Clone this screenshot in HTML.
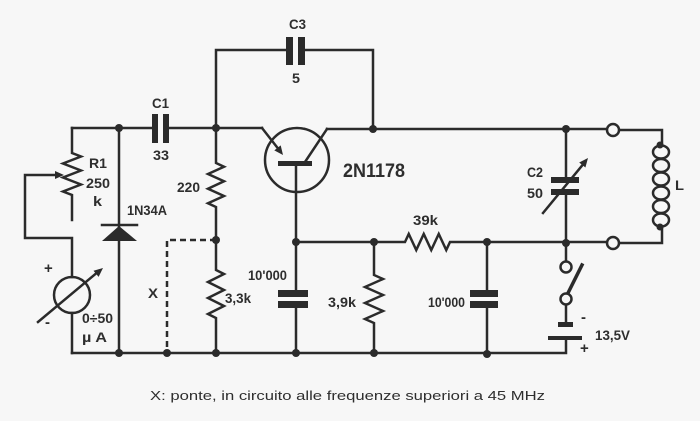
<!DOCTYPE html>
<html><head><meta charset="utf-8"><style>
html,body{margin:0;padding:0;background:#f7f7f7;}
svg{display:block;}
text{font-family:"Liberation Sans",sans-serif;font-weight:bold;fill:#2e2e2e;}
</style></head><body>
<svg width="700" height="421" viewBox="0 0 700 421" xmlns="http://www.w3.org/2000/svg">
<rect width="700" height="421" fill="#f7f7f7"/>
<g stroke="#2b2b2b" stroke-width="2.5" fill="none" stroke-linecap="square">
<!-- top wire -->
<path d="M72 128 H152 M169 128 H262 M327 129 H607"/>
<!-- C3 loop -->
<path d="M216 128 V50 H287 M305 50 H373 V129"/>
<!-- left branch with R1 -->
<path d="M72 128 V153 L81 156.5 L63 163.5 L81 170.5 L63 177.5 L81 184.5 L63 191.5 L72 195 V220"/>
<!-- wiper -->
<path d="M57 175 H25 V238 H72 V277"/>
<!-- meter -->
<circle cx="72" cy="295" r="18"/>
<path d="M72 313 V353"/>
<path d="M38 322 L99 271"/>
<!-- bottom wire -->
<path d="M72 353 H566 V339"/>
<!-- diode line -->
<path d="M119 128 V353"/>
<path d="M102 225 H137"/>
<!-- 220 -->
<path d="M216 128 V163 L224 166.7 L208 174 L224 181.3 L208 188.7 L224 196 L208 203.3 L216 207 V270 L224 274 L208 282 L224 290 L208 298 L224 306 L208 314 L216 318 V353"/>
<!-- transistor -->
<circle cx="297" cy="160" r="32"/>
<path d="M262 128 L280 151"/>
<path d="M305 162 L327 129"/>
<path d="M296 166 V242"/>
<!-- mid wire -->
<path d="M296 242 H405 L408.75 234 L416.25 250 L423.75 234 L431.25 250 L438.75 234 L446.25 250 L450 242 H607"/>
<!-- cap 10000 left -->
<path d="M296 242 V290 M296 308 V353"/>
<!-- 3,9k -->
<path d="M374 242 V275 L383 279 L365 287 L383 295 L365 303 L383 311 L365 319 L374 323 V353"/>
<!-- cap right -->
<path d="M487 242 V290 M487 308 V354"/>
<!-- C2 -->
<path d="M566 129 V178 M566 195 V243 V261"/>
<path d="M543 213 L585 162"/>
<!-- right loop -->
<path d="M619 130 H662 V145 M662 227 V243 H619"/>
<!-- switch -->
<path d="M566 304 V322"/>
<path d="M568 293 L582 265" stroke-width="3.5"/>
</g>
<!-- dashed X -->
<path d="M216 240 H167 V353" stroke="#2b2b2b" stroke-width="2.5" fill="none" stroke-dasharray="6 4"/>
<!-- coil -->
<g stroke="#2b2b2b" stroke-width="2.5" fill="none">
<ellipse cx="661" cy="152" rx="8" ry="6.5"/>
<ellipse cx="661" cy="165.5" rx="8" ry="6.5"/>
<ellipse cx="661" cy="179" rx="8" ry="6.5"/>
<ellipse cx="661" cy="193" rx="8" ry="6.5"/>
<ellipse cx="661" cy="206.5" rx="8" ry="6.5"/>
<ellipse cx="661" cy="220" rx="8" ry="6.5"/>
</g>
<g fill="#2b2b2b">
<!-- capacitor plates -->
<rect x="152" y="114" width="6" height="29"/>
<rect x="163" y="114" width="6" height="29"/>
<rect x="286" y="37" width="7" height="28"/>
<rect x="298" y="37" width="7" height="28"/>
<rect x="278" y="290" width="30" height="7"/>
<rect x="278" y="301" width="30" height="7"/>
<rect x="470" y="290" width="28" height="7"/>
<rect x="470" y="301" width="28" height="7"/>
<rect x="551" y="177" width="28" height="6"/>
<rect x="551" y="189" width="28" height="6"/>
<rect x="558" y="322" width="15" height="5"/>
<rect x="548" y="336" width="34" height="4"/>
<!-- transistor base bar -->
<rect x="278" y="161" width="34" height="5"/>
<!-- diode triangle -->
<polygon points="119,226 102,241 137,241"/>
<!-- arrowheads -->
<polygon points="64,175 55,171 55,179"/>
<polygon points="103,268 98.6,276.9 93.5,270.7"/>
<polygon points="588,158 585.4,167.5 579.2,162.5"/>
<polygon points="283,155 280.7,145.4 274.3,150.4"/>
<!-- junction dots -->
<circle cx="119" cy="128" r="4"/>
<circle cx="216" cy="128" r="4"/>
<circle cx="373" cy="129" r="4"/>
<circle cx="566" cy="129" r="4"/>
<circle cx="216" cy="240" r="4"/>
<circle cx="296" cy="242" r="4"/>
<circle cx="374" cy="242" r="4"/>
<circle cx="487" cy="242" r="4"/>
<circle cx="566" cy="243" r="4"/>
<circle cx="119" cy="353" r="4"/>
<circle cx="167" cy="353" r="4"/>
<circle cx="216" cy="353" r="4"/>
<circle cx="296" cy="353" r="4"/>
<circle cx="374" cy="353" r="4"/>
<circle cx="487" cy="354" r="4"/>
<circle cx="660" cy="145" r="3.5"/>
<circle cx="660" cy="227" r="3.5"/>
</g>
<!-- open terminals -->
<g stroke="#2b2b2b" stroke-width="2.5" fill="#f7f7f7">
<circle cx="613" cy="130" r="6"/>
<circle cx="613" cy="243" r="6"/>
<circle cx="566" cy="267" r="5.5"/>
<circle cx="566" cy="299" r="5.5"/>
</g>
<!-- labels -->
<g font-size="14">
<text x="152" y="108" textLength="17" lengthAdjust="spacingAndGlyphs">C1</text>
<text x="153" y="160" textLength="16" lengthAdjust="spacingAndGlyphs">33</text>
<text x="289" y="29" textLength="17" lengthAdjust="spacingAndGlyphs">C3</text>
<text x="292" y="83" textLength="8" lengthAdjust="spacingAndGlyphs">5</text>
<text x="89" y="168" textLength="18" lengthAdjust="spacingAndGlyphs">R1</text>
<text x="86" y="188" textLength="24" lengthAdjust="spacingAndGlyphs">250</text>
<text x="93" y="206" textLength="9" lengthAdjust="spacingAndGlyphs">k</text>
<text x="127" y="215" textLength="40" lengthAdjust="spacingAndGlyphs">1N34A</text>
<text x="177" y="192" textLength="23" lengthAdjust="spacingAndGlyphs">220</text>
<text x="148" y="298" textLength="10" lengthAdjust="spacingAndGlyphs">X</text>
<text x="44" y="273" font-size="15">+</text>
<text x="45" y="327" font-size="15">-</text>
<text x="82" y="323" textLength="31" lengthAdjust="spacingAndGlyphs">0÷50</text>
<text x="82" y="342" textLength="25" lengthAdjust="spacingAndGlyphs">µ A</text>
<text x="225" y="303" textLength="26" lengthAdjust="spacingAndGlyphs">3,3k</text>
<text x="248" y="280" textLength="39" lengthAdjust="spacingAndGlyphs">10'000</text>
<text x="343" y="177" font-size="19" textLength="62" lengthAdjust="spacingAndGlyphs">2N1178</text>
<text x="413" y="225" textLength="25" lengthAdjust="spacingAndGlyphs">39k</text>
<text x="328" y="307" textLength="28" lengthAdjust="spacingAndGlyphs">3,9k</text>
<text x="428" y="307" textLength="37" lengthAdjust="spacingAndGlyphs">10'000</text>
<text x="527" y="177" textLength="16" lengthAdjust="spacingAndGlyphs">C2</text>
<text x="527" y="198" textLength="16" lengthAdjust="spacingAndGlyphs">50</text>
<text x="675" y="190" textLength="9" lengthAdjust="spacingAndGlyphs">L</text>
<text x="581" y="322" font-size="15">-</text>
<text x="580" y="353" font-size="15">+</text>
<text x="595" y="340" textLength="35" lengthAdjust="spacingAndGlyphs">13,5V</text>
</g>
<text x="150" y="400" font-size="13" font-weight="normal" textLength="395" lengthAdjust="spacingAndGlyphs" style="font-weight:normal">X: ponte, in circuito alle  frequenze  superiori a  45 MHz</text>
</svg>
</body></html>
